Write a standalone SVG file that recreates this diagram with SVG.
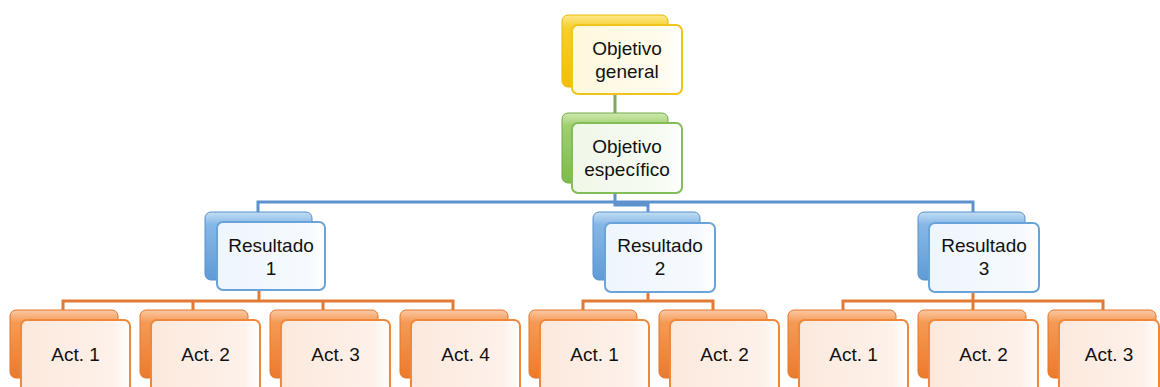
<svg xmlns="http://www.w3.org/2000/svg" width="1160" height="387" viewBox="0 0 1160 387">
<defs>
<linearGradient id="gY" x1="0" y1="0" x2="0" y2="1"><stop offset="0" stop-color="#fde98a"/><stop offset="0.18" stop-color="#f7cf2a"/><stop offset="1" stop-color="#f0c000"/></linearGradient>
<linearGradient id="gG" x1="0" y1="0" x2="0" y2="1"><stop offset="0" stop-color="#cfe9b2"/><stop offset="0.18" stop-color="#9fd06e"/><stop offset="1" stop-color="#7dba4c"/></linearGradient>
<linearGradient id="gB" x1="0" y1="0" x2="0" y2="1"><stop offset="0" stop-color="#c4def4"/><stop offset="0.18" stop-color="#86b8e6"/><stop offset="1" stop-color="#5f9bd6"/></linearGradient>
<linearGradient id="gO" x1="0" y1="0" x2="0" y2="1"><stop offset="0" stop-color="#fbc9a4"/><stop offset="0.18" stop-color="#f49a55"/><stop offset="1" stop-color="#ec7a2c"/></linearGradient>
<linearGradient id="fY" x1="0" y1="0" x2="1" y2="0"><stop offset="0" stop-color="#fff8dc"/><stop offset="0.85" stop-color="#fffcef"/><stop offset="1" stop-color="#ffffff"/></linearGradient>
<linearGradient id="fG" x1="0" y1="0" x2="1" y2="0"><stop offset="0" stop-color="#f0f7e8"/><stop offset="0.85" stop-color="#f7fbf3"/><stop offset="1" stop-color="#ffffff"/></linearGradient>
<linearGradient id="fB" x1="0" y1="0" x2="1" y2="0"><stop offset="0" stop-color="#eef5fc"/><stop offset="0.85" stop-color="#f6fafe"/><stop offset="1" stop-color="#ffffff"/></linearGradient>
<linearGradient id="fO" x1="0" y1="0" x2="1" y2="0"><stop offset="0" stop-color="#fce9dd"/><stop offset="0.85" stop-color="#fdf1ea"/><stop offset="1" stop-color="#ffffff"/></linearGradient>
</defs>
<style>
text{font-family:"Liberation Sans",Arial,sans-serif;font-size:19px;fill:#111;text-anchor:middle}
.bY{fill:url(#gY);stroke:#e8b800;stroke-width:1}
.bG{fill:url(#gG);stroke:#72aa44;stroke-width:1}
.bB{fill:url(#gB);stroke:#5690cc;stroke-width:1}
.bO{fill:url(#gO);stroke:#e2772c;stroke-width:1}
.fY{fill:url(#fY);stroke:#f2c41a;stroke-width:2}
.fG{fill:url(#fG);stroke:#82bd57;stroke-width:2}
.fB{fill:url(#fB);stroke:#6aa2da;stroke-width:2}
.fO{fill:url(#fO);stroke:#f0883c;stroke-width:2}
.cG{stroke:#7aaa5a;stroke-width:3;fill:none}
.cB{stroke:#5d92cf;stroke-width:3;fill:none}
.cO{stroke:#e17a36;stroke-width:3;fill:none}
</style>
<g id="connectors">
<path class="cG" d="M615 87V113"/>
<path class="cB" d="M615 183V202M258 212V202H973V212M615 202V205H648V212"/>
<path class="cO" d="M259 280V301M63 310V301H453V310M193 301V310M323 301V310"/>
<path class="cO" d="M648 280V301M583 310V301H713V310"/>
<path class="cO" d="M973 280V301M843 310V301H1103V310M973 301V310"/>
</g>
<g id="objetivo-general">
<rect class="bY" x="562" y="15" width="106" height="72" rx="6"/>
<rect class="fY" x="572" y="25" width="110" height="69" rx="6"/>
<text x="627" y="55">Objetivo</text><text x="627" y="78">general</text>
</g>
<g id="objetivo-especifico">
<rect class="bG" x="562" y="113" width="106" height="70" rx="6"/>
<rect class="fG" x="572" y="123" width="110" height="70" rx="6"/>
<text x="627" y="153">Objetivo</text><text x="627" y="176">específico</text>
</g>
<g id="resultado-1">
<rect class="bB" x="205" y="212" width="107" height="68" rx="6"/>
<rect class="fB" x="217" y="222" width="108" height="68" rx="6"/>
<text x="271" y="252">Resultado</text><text x="271" y="275">1</text>
</g>
<g id="resultado-2">
<rect class="bB" x="593" y="212" width="107" height="68" rx="6"/>
<rect class="fB" x="605" y="223" width="110" height="69" rx="6"/>
<text x="660" y="252">Resultado</text><text x="660" y="275">2</text>
</g>
<g id="resultado-3">
<rect class="bB" x="918" y="212" width="107" height="68" rx="6"/>
<rect class="fB" x="929" y="223" width="110" height="69" rx="6"/>
<text x="984" y="252">Resultado</text><text x="984" y="275">3</text>
</g>
<g id="r1-act1"><rect class="bO" x="10" y="310" width="108" height="68" rx="6"/><rect class="fO" x="21" y="320" width="109" height="72" rx="6"/><text x="75.5" y="361">Act. 1</text></g>
<g id="r1-act2"><rect class="bO" x="140" y="310" width="108" height="68" rx="6"/><rect class="fO" x="151" y="320" width="109" height="72" rx="6"/><text x="205.5" y="361">Act. 2</text></g>
<g id="r1-act3"><rect class="bO" x="270" y="310" width="108" height="68" rx="6"/><rect class="fO" x="281" y="320" width="109" height="72" rx="6"/><text x="335.5" y="361">Act. 3</text></g>
<g id="r1-act4"><rect class="bO" x="400" y="310" width="108" height="68" rx="6"/><rect class="fO" x="411" y="320" width="109" height="72" rx="6"/><text x="465.5" y="361">Act. 4</text></g>
<g id="r2-act1"><rect class="bO" x="529" y="310" width="108" height="68" rx="6"/><rect class="fO" x="540" y="320" width="109" height="72" rx="6"/><text x="594.5" y="361">Act. 1</text></g>
<g id="r2-act2"><rect class="bO" x="659" y="310" width="108" height="68" rx="6"/><rect class="fO" x="670" y="320" width="109" height="72" rx="6"/><text x="724.5" y="361">Act. 2</text></g>
<g id="r3-act1"><rect class="bO" x="788" y="310" width="108" height="68" rx="6"/><rect class="fO" x="799" y="320" width="109" height="72" rx="6"/><text x="853.5" y="361">Act. 1</text></g>
<g id="r3-act2"><rect class="bO" x="918" y="310" width="108" height="68" rx="6"/><rect class="fO" x="929" y="320" width="109" height="72" rx="6"/><text x="983.5" y="361">Act. 2</text></g>
<g id="r3-act3"><rect class="bO" x="1048" y="310" width="108" height="68" rx="6"/><rect class="fO" x="1059" y="320" width="100" height="72" rx="6"/><text x="1109" y="361">Act. 3</text></g>
</svg>
